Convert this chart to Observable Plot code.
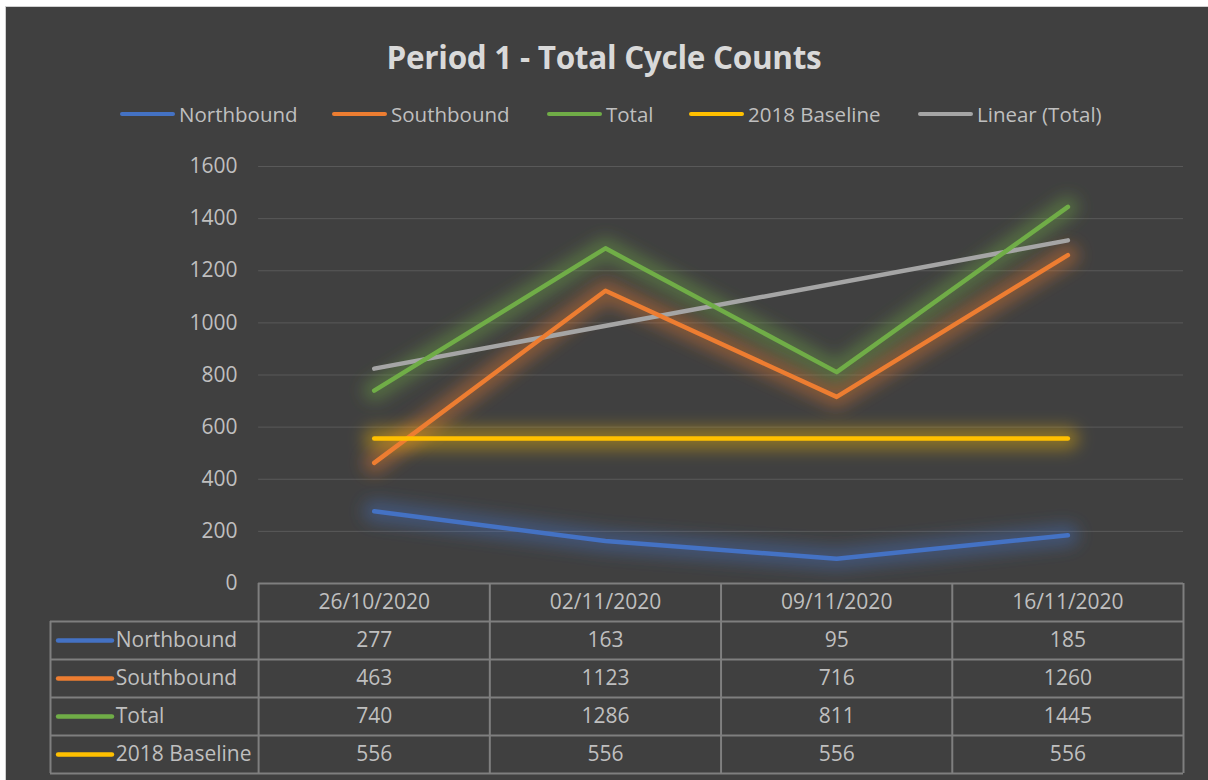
<!DOCTYPE html>
<html>
<head>
<meta charset="utf-8">
<script src="https://cdn.jsdelivr.net/npm/d3@7"></script>
<script src="https://cdn.jsdelivr.net/npm/@observablehq/plot@0.6"></script>
<style>
  html, body { margin: 0; padding: 0; background: #ffffff; }
  #frame {
    position: absolute; left: 5px; top: 6px; width: 1203px; height: 774px;
    background: #404040; border-left: 1px solid #d0d0d0; border-top: 1px solid #d0d0d0;
    box-sizing: border-box; overflow: hidden;
    font-family: "Open Sans", "Noto Sans", sans-serif;
  }
  #title {
    position: absolute; left: -6px; top: 30px; width: 1208px; text-align: center;
    color: #d9d9d9; font-weight: bold; font-size: 31.5px; letter-spacing: -0.3px; line-height: 40px;
  }
  #legend { position: absolute; left: -6px; top: 92px; width: 1208px; height: 30px; }
  .item { position: absolute; top: 0; display: flex; align-items: center; height: 30px;
    color: #bfbfbf; font-size: 20.5px; }
  .sw { width: 55px; height: 4px; border-radius: 2px; margin-right: 4px; }
  #chart { position: absolute; left: -6px; top: 126px; }
</style>
</head>
<body>
<div id="frame">
  <div id="title">Period 1 - Total Cycle Counts</div>
  <div id="legend"></div>
  <div id="chart"></div>
</div>
<script>
// ---- data ----
const categories = ["26/10/2020", "02/11/2020", "09/11/2020", "16/11/2020"];
const northbound = [277, 163, 95, 185];
const southbound = [463, 1123, 716, 1260];
const total = [740, 1286, 811, 1445];
const baseline2018 = [556, 556, 556, 556];
const yTicks = [0, 200, 400, 600, 800, 1000, 1200, 1400, 1600];

const seriesNames = ["Northbound", "Southbound", "Total", "2018 Baseline"];
const seriesValues = [northbound, southbound, total, baseline2018];
const seriesColors = ["#4472c4", "#ed7d31", "#70ad47", "#ffc000"];
const trendColor = "#a5a5a5";

// long table for lines
const rows = [];
seriesNames.forEach((s, k) => seriesValues[k].forEach((v, i) => rows.push({series: s, i: i + 1, value: v})));
const totalRows = total.map((v, i) => ({i: i + 1, value: v}));

// ---- legend (HTML) ----
const legendItems = [
  {name: "Northbound", color: seriesColors[0], left: 120},
  {name: "Southbound", color: seriesColors[1], left: 332},
  {name: "Total", color: seriesColors[2], left: 547},
  {name: "2018 Baseline", color: seriesColors[3], left: 689},
  {name: "Linear (Total)", color: trendColor, left: 918}
];
const leg = document.getElementById("legend");
legendItems.forEach(it => {
  const d = document.createElement("div");
  d.className = "item"; d.style.left = it.left + "px";
  d.innerHTML = `<span class="sw" style="background:${it.color}"></span><span>${it.name}</span>`;
  leg.appendChild(d);
});

// ---- layout ----
const W = 1208, H = 654;
const mTop = 33, plotH = 417;
const mBottom = H - mTop - plotH;
const rowPx = 38;            // table row height
const nRows = 1 + seriesNames.length;
const colorScale = {domain: seriesNames, range: seriesColors};
const textCol = "#bfbfbf";
const lineCol = "#7f7f7f";
const labelColX = -0.4;       // left edge of the label column (x units)
const edgeL = 0.5, edgeR = 4.5;
const fs = 21;

const marks = [];
// gridlines
marks.push(Plot.ruleY(yTicks.filter(d => d > 0), {x1: edgeL, x2: edgeR, stroke: "#595959", strokeWidth: 1}));
// y tick labels
marks.push(Plot.text(yTicks, {x: edgeL, y: d => d, text: d => String(d), textAnchor: "end", dx: -21, fill: textCol, fontSize: fs}));

// glow layers (blurred below)
seriesNames.forEach((s, k) => {
  marks.push(Plot.line(rows.filter(r => r.series === s), {x: "i", y: "value", stroke: seriesColors[k], strokeWidth: 22, strokeOpacity: 0.4, strokeLinecap: "round", strokeLinejoin: "round"}));
});
// trend line
marks.push(Plot.linearRegressionY(totalRows, {x: "i", y: "value", stroke: trendColor, strokeWidth: 4.5, ci: 0, strokeLinecap: "round"}));
// series lines
marks.push(Plot.line(rows, {x: "i", y: "value", z: "series", stroke: "series", strokeWidth: 4.5, strokeLinecap: "round", strokeLinejoin: "round"}));

// ---- data table ----
marks.push(Plot.ruleY([0], {x1: edgeL, x2: edgeR, stroke: lineCol, strokeWidth: 2}));
for (let r = 1; r <= nRows; r++) {
  marks.push(Plot.ruleY([0], {x1: labelColX, x2: edgeR, dy: r * rowPx, stroke: lineCol, strokeWidth: 2}));
}
marks.push(Plot.ruleX(d3.range(edgeL, edgeR + 0.01, 1), {y1: 0, y2: 0, insetBottom: -nRows * rowPx, stroke: lineCol, strokeWidth: 2}));
marks.push(Plot.ruleX([labelColX], {y1: 0, y2: 0, insetTop: rowPx, insetBottom: -nRows * rowPx, stroke: lineCol, strokeWidth: 2}));
marks.push(Plot.text(categories, {x: (d, i) => i + 1, y: 0, text: d => d, dy: rowPx * 0.5, fill: textCol, fontSize: fs}));
seriesNames.forEach((s, k) => {
  const dy = rowPx * (k + 1.5);
  marks.push(Plot.text(seriesValues[k], {x: (d, i) => i + 1, y: 0, text: d => String(d), dy, fill: textCol, fontSize: fs}));
  marks.push(Plot.ruleY([0], {x1: labelColX + 0.035, x2: labelColX + 0.268, dy, stroke: seriesColors[k], strokeWidth: 4.5, strokeLinecap: "round"}));
  marks.push(Plot.text([s], {x: labelColX + 0.282, y: 0, text: d => d, dy, textAnchor: "start", fill: textCol, fontSize: fs}));
});

const chart = Plot.plot({
  width: W, height: H,
  marginTop: mTop, marginBottom: mBottom, marginLeft: 50, marginRight: 25,
  style: {background: "transparent", fontFamily: "'Open Sans', 'Noto Sans', sans-serif", overflow: "visible"},
  x: {type: "linear", domain: [labelColX, edgeR], axis: null},
  y: {domain: [0, 1600], axis: null},
  color: colorScale,
  marks
});

// blur the glow layers: the first four line groups
const ns = "http://www.w3.org/2000/svg";
const defs = document.createElementNS(ns, "defs");
const filt = document.createElementNS(ns, "filter");
filt.setAttribute("id", "glowblur");
filt.setAttribute("filterUnits", "userSpaceOnUse");
filt.setAttribute("x", "0"); filt.setAttribute("y", "0");
filt.setAttribute("width", String(W)); filt.setAttribute("height", String(H));
const blur = document.createElementNS(ns, "feGaussianBlur");
blur.setAttribute("stdDeviation", "8");
filt.appendChild(blur);
defs.appendChild(filt);
chart.insertBefore(defs, chart.firstChild);
const lineGroups = chart.querySelectorAll('g[aria-label="line"]');
for (let k = 0; k < seriesNames.length && k < lineGroups.length; k++) {
  lineGroups[k].setAttribute("filter", "url(#glowblur)");
}

document.getElementById("chart").appendChild(chart);
</script>
</body>
</html>
